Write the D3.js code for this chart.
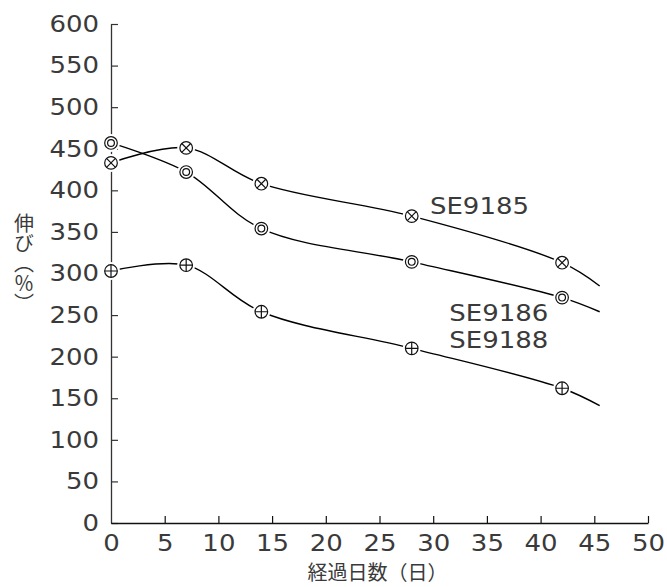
<!DOCTYPE html>
<html><head><meta charset="utf-8">
<script src="https://cdn.jsdelivr.net/npm/d3@7"></script>
<style>
body{margin:0;background:#fff;}
svg{display:block;}
</style></head>
<body>
<svg id="c" width="667" height="587"></svg>
<script>
const days = [0, 7, 14, 28, 42];
const tailDay = 45.5;
const seriesNames = ["SE9185", "SE9186", "SE9188"];
const se9185 = [433, 451, 408, 369, 313];
const se9186 = [457, 422, 354, 314, 271];
const se9188 = [303, 310, 254, 210, 162];
const tailValues = [285, 254, 141];
const markerTypes = ["cross", "double", "plus"];
const yTicks = [0, 50, 100, 150, 200, 250, 300, 350, 400, 450, 500, 550, 600];
const xTicks = [0, 5, 10, 15, 20, 25, 30, 35, 40, 45, 50];
const xTitle = "経過日数（日）";
const yTitle = "伸び（％）";

(function () {
const svg = d3.select("#c");
const mLeft = 111, mRight = 648, mTop = 24, mBottom = 523;
const x = d3.scaleLinear().domain([0, 50]).range([mLeft, mRight]);
const y = d3.scaleLinear().domain([0, 600]).range([mBottom, mTop]);
const font = "'DejaVu Sans', sans-serif";
const jfont = "'Noto Sans CJK JP', sans-serif";
const fs = 23, fw = 400;
const sx = 1.13;
const textColor = "#3a3a3a";

// axes
const yAxis = d3.axisLeft(y).tickValues(yTicks).tickSize(-7).tickSizeOuter(0).tickPadding(12);
const gy = svg.append("g").attr("transform", `translate(${mLeft},0)`).call(yAxis);
gy.select(".domain").attr("stroke", "#333").attr("stroke-width", 1.3);
gy.selectAll(".tick line").attr("stroke", "#333").attr("stroke-width", 1.2);
gy.selectAll(".tick text").attr("font-family", font).attr("font-size", fs).attr("font-weight", fw).attr("fill", textColor)
  .attr("x", -12 / sx).attr("transform", `scale(${sx},1)`);

const xAxis = d3.axisBottom(x).tickValues(xTicks).tickSize(-7).tickSizeOuter(0).tickPadding(12);
const gx = svg.append("g").attr("transform", `translate(0,${mBottom})`).call(xAxis);
gx.select(".domain").attr("stroke", "#111").attr("stroke-width", 1.3);
gx.selectAll(".tick line").attr("stroke", "#111").attr("stroke-width", 1.2);
gx.selectAll(".tick").filter(d => d === 0).select("line").remove();
gx.selectAll(".tick text").attr("font-family", font).attr("font-size", fs).attr("font-weight", fw).attr("fill", textColor)
  .attr("transform", `scale(${sx},1)`)
  .attr("x", 0);

// titles
svg.append("text").attr("x", (mLeft + mRight) / 2 - 2).attr("y", 580)
  .attr("text-anchor", "middle").attr("font-family", jfont).attr("font-size", 20).attr("font-weight", fw).attr("fill", textColor)
  .text(xTitle);
svg.append("text").attr("x", 24).attr("y", 213)
  .style("writing-mode", "vertical-rl").style("text-orientation", "upright")
  .attr("font-family", jfont).attr("font-size", 20).attr("font-weight", fw).attr("fill", textColor)
  .text(yTitle);

// series
const allValues = [se9185, se9186, se9188];
const line = d3.line().x(d => x(d[0])).y(d => y(d[1])).curve(d3.curveCatmullRom.alpha(0.5));
allValues.forEach((vals, i) => {
  const pts = days.map((d, j) => [d, vals[j]]).concat([[tailDay, tailValues[i]]]);
  svg.append("path").attr("d", line(pts)).attr("fill", "none").attr("stroke", "#000").attr("stroke-width", 1.4);
});
allValues.forEach((vals, i) => {
  const g = svg.append("g");
  days.forEach((d, j) => {
    const cx = x(d), cy = y(vals[j]);
    const m = g.append("g").attr("transform", `translate(${cx},${cy})`);
    m.append("circle").attr("r", 9).attr("fill", "#fff");
    m.append("circle").attr("r", 6.3).attr("fill", "#fff").attr("stroke", "#111").attr("stroke-width", 1.2);
    const t = markerTypes[i];
    const r = 6.3;
    if (t === "cross") {
      const k = r * Math.SQRT1_2;
      m.append("path").attr("d", `M${-k},${-k}L${k},${k}M${-k},${k}L${k},${-k}`).attr("stroke", "#111").attr("stroke-width", 1.2);
    } else if (t === "plus") {
      m.append("path").attr("d", `M${-r},0L${r},0M0,${-r}L0,${r}`).attr("stroke", "#111").attr("stroke-width", 1.2);
    } else {
      m.append("circle").attr("r", 3.4).attr("fill", "none").attr("stroke", "#111").attr("stroke-width", 1.2);
    }
  });
});

// series labels (anchor day, value at baseline)
const labelPos = [[29.7, 372], [31.5, 243], [31.5, 210.5]];
seriesNames.forEach((n, i) => {
  svg.append("text").attr("x", x(labelPos[i][0]) / sx).attr("y", y(labelPos[i][1]))
    .attr("transform", `scale(${sx},1)`)
    .attr("font-family", font).attr("font-size", fs).attr("font-weight", fw).attr("fill", textColor).text(n);
});
})();
</script>
</body></html>
